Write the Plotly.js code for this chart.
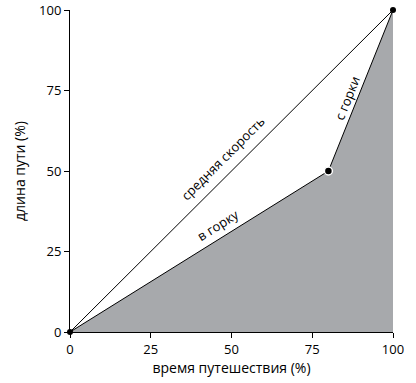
<!DOCTYPE html>
<html><head><meta charset="utf-8">
<script src="https://cdn.plot.ly/plotly-3.0.1.min.js"></script>
<style>body{margin:0;padding:0;background:#fff}#chart{width:416px;height:383px}</style>
</head><body><div id="chart"></div>
<script>
const pathX = [0, 80, 100];
const pathY = [0, 50, 100];
const avgX = [0, 100];
const avgY = [0, 100];
const tickVals = [0, 25, 50, 75, 100];
const tickText = ["0", "25", "50", "75", "100"];
const labels = ["средняя скорость", "в горку", "с горки"];
const labelX = [47.4, 45.8, 85.8];
const labelY = [54, 33.2, 72.7];
const labelAngle = [-45, -32, -68];

const font = "Open Sans, DejaVu Sans, sans-serif";
const traces = [
  {x: pathX.concat([100]), y: pathY.concat([0]), fill: 'toself', fillcolor: '#a7a9ac',
   mode: 'none', hoverinfo: 'skip', type: 'scatter'},
  {x: avgX, y: avgY, mode: 'lines', line: {color: '#000', width: 1}, type: 'scatter', cliponaxis: false},
  {x: pathX, y: pathY, mode: 'lines', line: {color: '#000', width: 1}, type: 'scatter', cliponaxis: false},
  {x: [pathX[0], pathX[2]], y: [pathY[0], pathY[2]], mode: 'markers', marker: {color: '#000', size: 6}, type: 'scatter', cliponaxis: false},
  {x: [pathX[1]], y: [pathY[1]], mode: 'markers', marker: {color: '#000', size: 8, line: {color: '#fff', width: 1.5}}, type: 'scatter', cliponaxis: false}
];
const annotations = labels.map((t, i) => ({
  x: labelX[i], y: labelY[i], xref: 'x', yref: 'y', text: t, showarrow: false,
  textangle: labelAngle[i], font: {family: font, size: 13, color: '#000'}
}));
const axisBase = {range: [0, 100], tickvals: tickVals, ticktext: tickText, showgrid: false, zeroline: false,
  showline: true, linecolor: '#000', linewidth: 1, ticks: 'outside', ticklen: 5, tickcolor: '#000',
  tickfont: {family: font, size: 13, color: '#000'}, fixedrange: true};
const layout = {
  width: 416, height: 383, margin: {l: 70, r: 23, t: 10, b: 51},
  paper_bgcolor: '#fff', plot_bgcolor: '#fff', showlegend: false,
  xaxis: Object.assign({}, axisBase, {title: {text: 'время путешествия (%)', font: {family: font, size: 14, color: '#000'}, standoff: 6}}),
  yaxis: Object.assign({}, axisBase, {title: {text: 'длина пути (%)', font: {family: font, size: 14, color: '#000'}, standoff: 10}}),
  annotations: annotations
};
Plotly.newPlot('chart', traces, layout, {staticPlot: true, displayModeBar: false});
</script></body></html>
